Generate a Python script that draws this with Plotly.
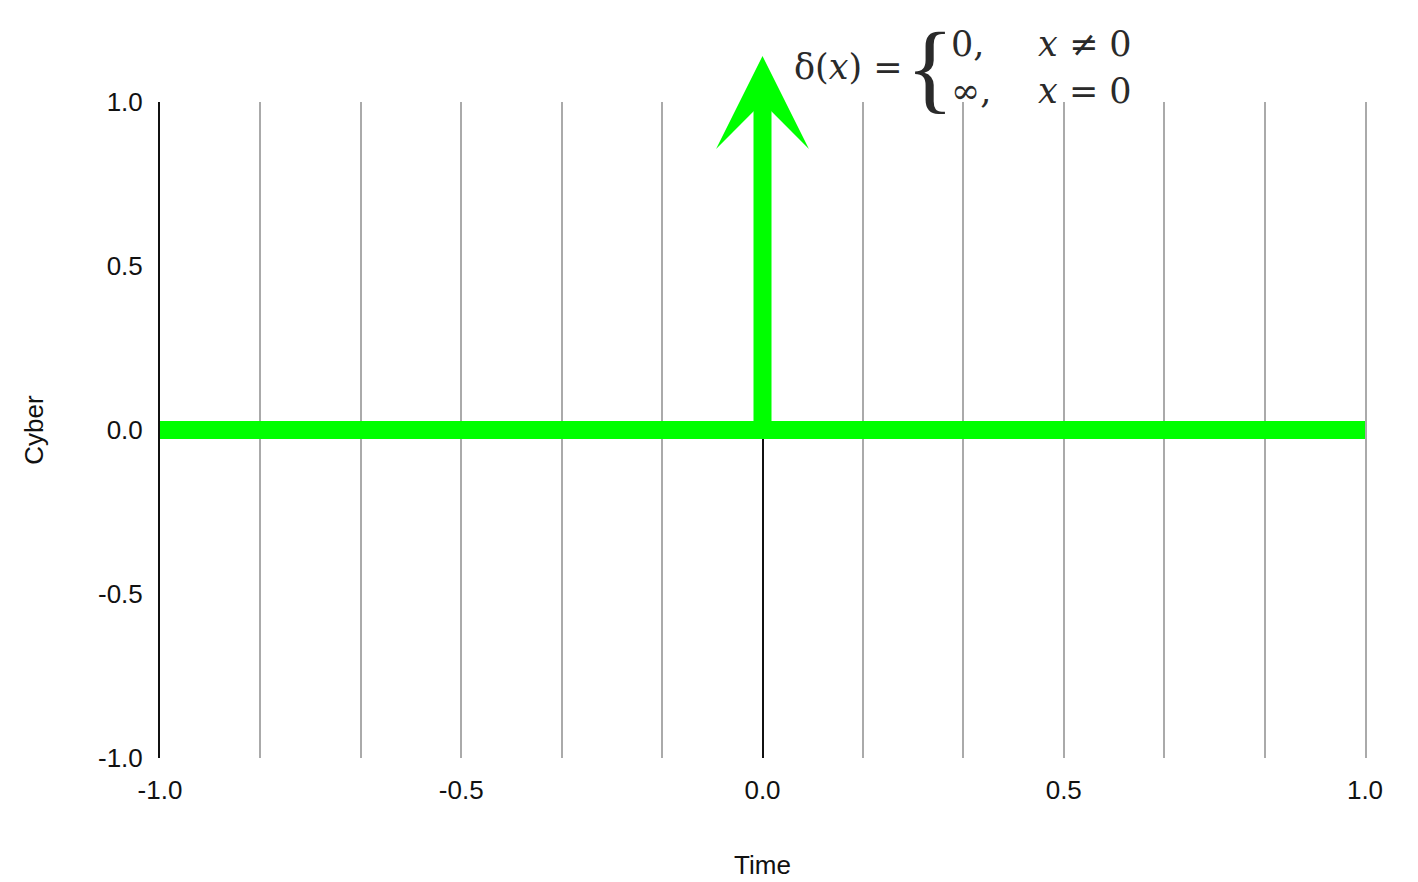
import plotly.graph_objects as go

# data
baseline_x = [-1.0, 1.0]
baseline_y = [0.0, 0.0]
impulse_x = [0.0]
impulse_height = [1.14]
x_tickvals = [-1.0, -0.5, 0.0, 0.5, 1.0]
x_ticktext = ["-1.0", "-0.5", "0.0", "0.5", "1.0"]
y_tickvals = [-1.0, -0.5, 0.0, 0.5, 1.0]
y_ticktext = ["-1.0", "-0.5", "0.0", "0.5", "1.0"]
x_grid_steps = 12  # vertical grid lines every 1/6

GREEN = "#00ff00"
GRID = "#aaaaaa"
TICKFONT = dict(family="Liberation Sans, Arial, sans-serif", size=26, color="#111")
EQFAM = "DejaVu Serif, Liberation Serif, serif"
EQFONT = dict(family=EQFAM, size=35, color="#2a2a2a")

grid_vals = [round(-1 + 2 * k / x_grid_steps, 10) for k in range(x_grid_steps + 1)]

fig = go.Figure()
fig.add_trace(go.Scatter(x=baseline_x, y=baseline_y, mode="lines",
                         line=dict(color=GREEN, width=18), showlegend=False,
                         hoverinfo="skip"))
# empty trace so the right-hand helper axis (grey edge grid line) is drawn
fig.add_trace(go.Scatter(x=[None], y=[None], yaxis="y2", mode="lines",
                         showlegend=False, hoverinfo="skip"))

annotations = []
for xi, h in zip(impulse_x, impulse_height):
    annotations.append(dict(x=xi, y=h, ax=xi, ay=0, xref="x", yref="y",
                            axref="x", ayref="y", text="", showarrow=True,
                            arrowhead=3, arrowwidth=18, arrowsize=0.86,
                            arrowcolor=GREEN, standoff=0, startstandoff=0))

# equation
annotations += [
    dict(x=0.571, y=1.053, xref="paper", yref="paper", text="δ(<i>x</i>) =",
         showarrow=False, xanchor="center", yanchor="middle", font=EQFONT),
    dict(x=0.639, y=1.052, xref="paper", yref="paper", text="{",
         showarrow=False, xanchor="center", yanchor="middle",
         font=dict(family="Liberation Serif, serif", size=100, color="#2a2a2a")),
    dict(x=0.655, y=1.088, xref="paper", yref="paper", text="0,",
         showarrow=False, xanchor="left", yanchor="middle", font=EQFONT),
    dict(x=0.655, y=1.017, xref="paper", yref="paper", text="∞,",
         showarrow=False, xanchor="left", yanchor="middle", font=EQFONT),
    dict(x=0.727, y=1.088, xref="paper", yref="paper", text="<i>x</i> ≠ 0",
         showarrow=False, xanchor="left", yanchor="middle", font=EQFONT),
    dict(x=0.727, y=1.017, xref="paper", yref="paper", text="<i>x</i> = 0",
         showarrow=False, xanchor="left", yanchor="middle", font=EQFONT),
]

fig.update_layout(
    width=1418, height=882,
    margin=dict(l=152, r=61, t=94, b=132),
    plot_bgcolor="white", paper_bgcolor="white",
    annotations=annotations,
    showlegend=False,
    yaxis=dict(
        range=[-1, 1], tickvals=y_tickvals, ticktext=y_ticktext,
        showgrid=False, zeroline=False,
        showline=True, linecolor="#111", linewidth=2,
        ticks="", tickfont=TICKFONT, ticklabelstandoff=10,
        title=dict(text="Cyber", font=TICKFONT, standoff=47),
    ),
    # right-edge grid line (plotly drops grid lines that sit on the range end)
    yaxis2=dict(overlaying="y", side="right", range=[-1, 1], showline=True,
                linecolor=GRID, linewidth=2, showgrid=False, zeroline=False,
                showticklabels=False, ticks=""),
)
fig.update_xaxes(
    range=[-1, 1], tickvals=x_tickvals, ticktext=x_ticktext,
    showgrid=True, gridcolor=GRID, gridwidth=2,
    minor=dict(tickmode="array", tickvals=grid_vals, showgrid=True,
               gridcolor=GRID, gridwidth=2),
    zeroline=True, zerolinecolor="#111", zerolinewidth=2,
    showline=False, ticks="", tickfont=TICKFONT, ticklabelstandoff=14,
    title=dict(text="Time", font=TICKFONT, standoff=51),
)

fig.write_html("out.html")
